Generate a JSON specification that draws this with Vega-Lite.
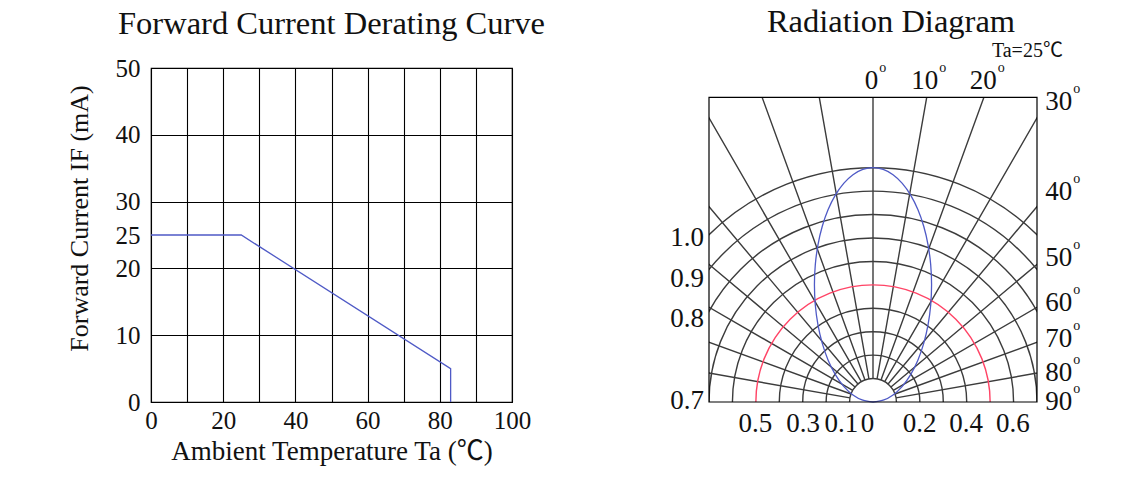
{
  "$schema": "https://vega.github.io/schema/vega-lite/v6.json",
  "background": "white",
  "padding": {"left": 65, "top": 6, "right": 5, "bottom": 5},
  "spacing": 124,
  "datasets": {
    "derating": [
      {"k": 0, "ta": 0, "cur": 25},
      {"k": 1, "ta": 25, "cur": 25},
      {"k": 2, "ta": 83, "cur": 5},
      {"k": 3, "ta": 83, "cur": 0}
    ],
    "rings": [{"r": 1}, {"r": 2}, {"r": 3}, {"r": 4}, {"r": 6}, {"r": 7}, {"r": 8}, {"r": 9}, {"r": 10}],
    "redring": [{"r": 5}],
    "spokes": [
      {"a": -80}, {"a": -70}, {"a": -60}, {"a": -50}, {"a": -40}, {"a": -30}, {"a": -20}, {"a": -10},
      {"a": 0}, {"a": 10}, {"a": 20}, {"a": 30}, {"a": 40}, {"a": 50}, {"a": 60}, {"a": 70}, {"a": 80}
    ],
    "pattern": [
      {"k": 0, "x": 0, "y": 0}, {"k": 1, "x": 0.434, "y": 0.076}, {"k": 2, "x": 0.855, "y": 0.302},
      {"k": 3, "x": 1.25, "y": 0.67}, {"k": 4, "x": 1.607, "y": 1.17}, {"k": 5, "x": 1.915, "y": 1.786},
      {"k": 6, "x": 2.165, "y": 2.5}, {"k": 7, "x": 2.349, "y": 3.29}, {"k": 8, "x": 2.462, "y": 4.132},
      {"k": 9, "x": 2.5, "y": 5}, {"k": 10, "x": 2.462, "y": 5.868}, {"k": 11, "x": 2.349, "y": 6.71},
      {"k": 12, "x": 2.165, "y": 7.5}, {"k": 13, "x": 1.915, "y": 8.214}, {"k": 14, "x": 1.607, "y": 8.83},
      {"k": 15, "x": 1.25, "y": 9.33}, {"k": 16, "x": 0.855, "y": 9.698}, {"k": 17, "x": 0.434, "y": 9.924},
      {"k": 18, "x": 0, "y": 10}, {"k": 19, "x": -0.434, "y": 9.924}, {"k": 20, "x": -0.855, "y": 9.698},
      {"k": 21, "x": -1.25, "y": 9.33}, {"k": 22, "x": -1.607, "y": 8.83}, {"k": 23, "x": -1.915, "y": 8.214},
      {"k": 24, "x": -2.165, "y": 7.5}, {"k": 25, "x": -2.349, "y": 6.71}, {"k": 26, "x": -2.462, "y": 5.868},
      {"k": 27, "x": -2.5, "y": 5}, {"k": 28, "x": -2.462, "y": 4.132}, {"k": 29, "x": -2.349, "y": 3.29},
      {"k": 30, "x": -2.165, "y": 2.5}, {"k": 31, "x": -1.915, "y": 1.786}, {"k": 32, "x": -1.607, "y": 1.17},
      {"k": 33, "x": -1.25, "y": 0.67}, {"k": 34, "x": -0.855, "y": 0.302}, {"k": 35, "x": -0.434, "y": 0.076},
      {"k": 36, "x": 0, "y": 0}
    ],
    "leftlabels": [
      {"lab": "1.0", "y": 7.02}, {"lab": "0.9", "y": 5.26}, {"lab": "0.8", "y": 3.55}, {"lab": "0.7", "y": 0.04}
    ],
    "bottomlabels": [
      {"lab": "0.5", "x": -5.02}, {"lab": "0.3", "x": -2.98}, {"lab": "0.1", "x": -1.35}, {"lab": "0", "x": -0.24},
      {"lab": "0.2", "x": 1.99}, {"lab": "0.4", "x": 3.97}, {"lab": "0.6", "x": 5.97}
    ],
    "toplabels": [
      {"lab": "0", "x": 0.22, "y": 13.68}, {"lab": "10", "x": 2.78, "y": 13.68}, {"lab": "20", "x": 5.28, "y": 13.68}
    ],
    "rightlabels": [
      {"lab": "30", "x": 8.5, "y": 12.82}, {"lab": "40", "x": 8.5, "y": 8.98}, {"lab": "50", "x": 8.5, "y": 6.13},
      {"lab": "60", "x": 8.5, "y": 4.21}, {"lab": "70", "x": 8.5, "y": 2.71}, {"lab": "80", "x": 8.5, "y": 1.22},
      {"lab": "90", "x": 8.5, "y": 0.0}
    ],
    "note": [{"lab": "Ta=25℃", "x": 6.59, "y": 15.0}],
    "frame": [{"x0": -7, "x1": 7, "y0": 0, "y1": 13, "m0": 13, "m1": 14.4}]
  },
  "hconcat": [
    {
      "width": 361,
      "height": 334,
      "title": {"text": "Forward Current Derating Curve", "offset": 16},
      "data": {"name": "derating"},
      "mark": {"type": "line", "color": "#4f5ac6", "strokeWidth": 1.3},
      "encoding": {
        "x": {
          "field": "ta", "type": "quantitative",
          "scale": {"domain": [0, 100], "nice": false, "zero": false},
          "axis": {
            "title": "Ambient Temperature Ta (℃)",
            "values": [0, 10, 20, 30, 40, 50, 60, 70, 80, 90, 100],
            "labelExpr": "datum.value % 20 == 0 ? datum.label : ''",
            "grid": true, "labelPadding": 6, "titleY": 36, "titleBaseline": "top", "titleFontSize": 27
          }
        },
        "y": {
          "field": "cur", "type": "quantitative",
          "scale": {"domain": [0, 50], "nice": false, "zero": false},
          "axis": {
            "title": "Forward Current IF (mA)",
            "values": [0, 10, 20, 25, 30, 40, 50],
            "grid": true,
            "gridOpacity": {"condition": {"test": "datum.value === 25", "value": 0}, "value": 1},
            "labelPadding": 11, "titleX": -59, "titleY": 150, "titleBaseline": "bottom"
          }
        },
        "order": {"field": "k", "type": "quantitative"}
      }
    },
    {
      "width": 328,
      "height": 334,
      "view": {"stroke": null},
      "title": {"text": "Radiation Diagram", "offset": 2, "dx": 18},
      "layer": [
        {
          "data": {"name": "rings"},
          "mark": {"type": "arc", "filled": false, "stroke": "#3c3c3c", "strokeWidth": 1.4, "clip": true, "theta": -1.5708, "theta2": 1.5708},
          "encoding": {
            "x": {"datum": 0, "type": "quantitative", "scale": {"domain": [-7, 7], "nice": false, "zero": false}, "axis": null},
            "y": {"datum": 0, "type": "quantitative", "scale": {"domain": [0, 14.255], "nice": false, "zero": false}, "axis": null},
            "radius": {"field": "r", "type": "quantitative", "scale": {"type": "linear", "domain": [0, 14], "range": [0, 328], "zero": true, "nice": false}},
            "radius2": {"field": "r"}
          }
        },
        {
          "data": {"name": "spokes"},
          "mark": {"type": "arc", "filled": false, "stroke": "#3c3c3c", "strokeWidth": 1.4, "clip": true},
          "encoding": {
            "x": {"datum": 0, "type": "quantitative", "scale": {"domain": [-7, 7], "nice": false, "zero": false}, "axis": null},
            "y": {"datum": 0, "type": "quantitative", "scale": {"domain": [0, 14.255], "nice": false, "zero": false}, "axis": null},
            "theta": {"field": "a", "type": "quantitative", "stack": null, "scale": {"type": "linear", "domain": [-90, 90], "range": [-1.5708, 1.5708]}},
            "theta2": {"field": "a"},
            "radius": {"datum": 1, "type": "quantitative", "scale": {"type": "linear", "domain": [0, 14], "range": [0, 328], "zero": true, "nice": false}},
            "radius2": {"datum": 20}
          }
        },
        {
          "data": {"name": "redring"},
          "mark": {"type": "arc", "filled": false, "stroke": "#ff4466", "strokeWidth": 1.4, "clip": true, "theta": -1.5708, "theta2": 1.5708},
          "encoding": {
            "x": {"datum": 0, "type": "quantitative", "scale": {"domain": [-7, 7], "nice": false, "zero": false}, "axis": null},
            "y": {"datum": 0, "type": "quantitative", "scale": {"domain": [0, 14.255], "nice": false, "zero": false}, "axis": null},
            "radius": {"field": "r", "type": "quantitative", "scale": {"type": "linear", "domain": [0, 14], "range": [0, 328], "zero": true, "nice": false}},
            "radius2": {"field": "r"}
          }
        },
        {
          "data": {"name": "pattern"},
          "mark": {"type": "line", "color": "#4f5ac6", "strokeWidth": 1.3, "interpolate": "cardinal"},
          "encoding": {
            "x": {"field": "x", "type": "quantitative", "scale": {"domain": [-7, 7], "nice": false, "zero": false}, "axis": null},
            "y": {"field": "y", "type": "quantitative", "scale": {"domain": [0, 14.255], "nice": false, "zero": false}, "axis": null},
            "order": {"field": "k", "type": "quantitative"}
          }
        },
        {
          "data": {"name": "frame"},
          "mark": {"type": "rect", "fill": "white", "stroke": null, "clip": true},
          "encoding": {
            "x": {"field": "x0", "type": "quantitative"},
            "x2": {"field": "x1"},
            "y": {"field": "m0", "type": "quantitative"},
            "y2": {"field": "m1"}
          }
        },
        {
          "data": {"name": "frame"},
          "mark": {"type": "rect", "filled": false, "stroke": "#000", "strokeWidth": 1.2},
          "encoding": {
            "x": {"field": "x0", "type": "quantitative"},
            "x2": {"field": "x1"},
            "y": {"field": "y0", "type": "quantitative"},
            "y2": {"field": "y1"}
          }
        },
        {
          "data": {"name": "leftlabels"},
          "mark": {"type": "text", "align": "right", "baseline": "middle", "dx": -5, "fontSize": 27, "font": "Liberation Serif", "color": "#111"},
          "encoding": {
            "x": {"datum": -7, "type": "quantitative"},
            "y": {"field": "y", "type": "quantitative"},
            "text": {"field": "lab"}
          }
        },
        {
          "data": {"name": "bottomlabels"},
          "mark": {"type": "text", "align": "center", "baseline": "middle", "dy": 22, "fontSize": 27, "font": "Liberation Serif", "color": "#111"},
          "encoding": {
            "x": {"field": "x", "type": "quantitative"},
            "y": {"datum": 0, "type": "quantitative"},
            "text": {"field": "lab"}
          }
        },
        {
          "data": {"name": "toplabels"},
          "mark": {"type": "text", "align": "right", "baseline": "middle", "fontSize": 27, "font": "Liberation Serif", "color": "#111"},
          "encoding": {
            "x": {"field": "x", "type": "quantitative"},
            "y": {"field": "y", "type": "quantitative"},
            "text": {"field": "lab"}
          }
        },
        {
          "data": {"name": "toplabels"},
          "mark": {"type": "text", "align": "left", "baseline": "middle", "dx": 1, "dy": -13, "fontSize": 14, "font": "Liberation Serif", "color": "#111", "text": "o"},
          "encoding": {
            "x": {"field": "x", "type": "quantitative"},
            "y": {"field": "y", "type": "quantitative"}
          }
        },
        {
          "data": {"name": "rightlabels"},
          "mark": {"type": "text", "align": "right", "baseline": "middle", "fontSize": 27, "font": "Liberation Serif", "color": "#111"},
          "encoding": {
            "x": {"field": "x", "type": "quantitative"},
            "y": {"field": "y", "type": "quantitative"},
            "text": {"field": "lab"}
          }
        },
        {
          "data": {"name": "rightlabels"},
          "mark": {"type": "text", "align": "left", "baseline": "middle", "dx": 1, "dy": -13, "fontSize": 14, "font": "Liberation Serif", "color": "#111", "text": "o"},
          "encoding": {
            "x": {"field": "x", "type": "quantitative"},
            "y": {"field": "y", "type": "quantitative"}
          }
        },
        {
          "data": {"name": "note"},
          "mark": {"type": "text", "align": "center", "baseline": "middle", "fontSize": 20, "font": "Liberation Serif, Noto Sans CJK SC", "color": "#111"},
          "encoding": {
            "x": {"field": "x", "type": "quantitative"},
            "y": {"field": "y", "type": "quantitative"},
            "text": {"field": "lab"}
          }
        }
      ]
    }
  ],
  "config": {
    "font": "Liberation Serif",
    "view": {"stroke": "#000", "strokeWidth": 1.2},
    "title": {"font": "Liberation Serif", "fontSize": 32.5, "fontWeight": "normal", "color": "#111", "anchor": "middle"},
    "axis": {
      "labelFont": "Liberation Serif", "labelFontSize": 25, "labelColor": "#111",
      "titleFont": "Liberation Serif, Noto Sans CJK SC", "titleFontSize": 26, "titleFontWeight": "normal", "titleColor": "#111",
      "ticks": false, "tickSize": 0, "domain": false,
      "gridColor": "#000", "gridWidth": 1.1, "gridOpacity": 1, "labelOverlap": false, "labelFlush": false
    }
  }
}
